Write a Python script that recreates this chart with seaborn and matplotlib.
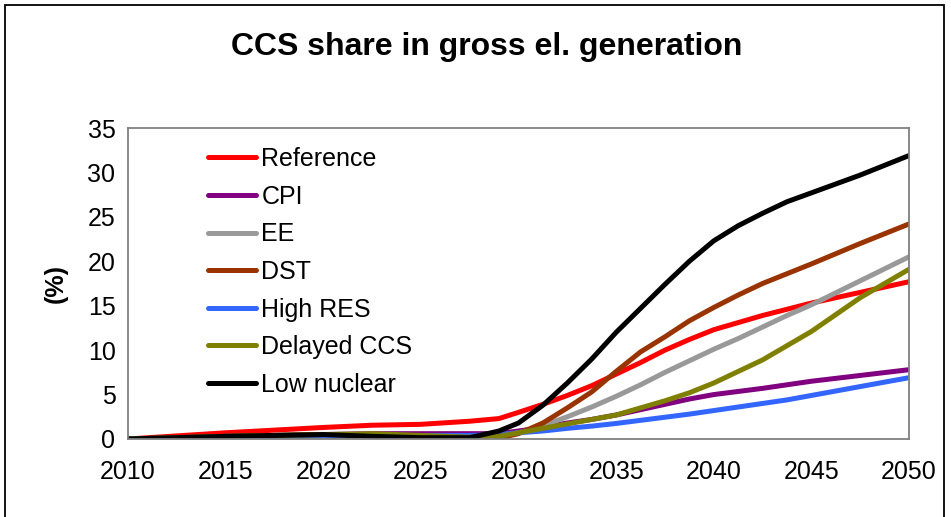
import matplotlib
matplotlib.use("Agg")
import matplotlib.pyplot as plt
import seaborn as sns
import pandas as pd
from matplotlib.patches import Rectangle

years = [2010, 2015, 2020, 2022.5, 2025, 2027.5, 2029, 2030, 2031.25, 2032.5, 2033.75,
         2035, 2036.25, 2037.5, 2038.75, 2040, 2041.25, 2042.5, 2043.75, 2045, 2047.5, 2050]

reference = [0, 0.7, 1.3, 1.55, 1.65, 2.0, 2.3, 3.0, 3.9, 4.9, 6.0,
             7.3, 8.6, 10.0, 11.2, 12.3, 13.1, 13.9, 14.6, 15.3, 16.5, 17.7]
cpi = [0, 0.3, 0.5, 0.6, 0.6, 0.6, 0.6, 0.9, 1.3, 1.8, 2.2,
       2.7, 3.3, 3.9, 4.5, 5.0, 5.35, 5.7, 6.1, 6.5, 7.15, 7.8]
ee = [0, 0.2, 0.3, 0.3, 0.3, 0.2, 0.4, 0.7, 1.5, 2.5, 3.6,
      4.8, 6.1, 7.5, 8.8, 10.1, 11.3, 12.6, 13.9, 15.1, 17.8, 20.5]
dst = [0, 0.3, 0.5, 0.4, 0.3, 0.1, 0.1, 0.6, 1.8, 3.5, 5.3,
       7.6, 9.8, 11.5, 13.3, 14.8, 16.2, 17.5, 18.6, 19.7, 22.0, 24.2]
high_res = [0, 0.2, 0.4, 0.4, 0.4, 0.4, 0.5, 0.7, 0.9, 1.2, 1.45,
            1.75, 2.1, 2.45, 2.8, 3.2, 3.6, 4.0, 4.4, 4.9, 5.9, 6.9]
delayed_ccs = [0, 0.3, 0.5, 0.6, 0.4, 0.2, 0.3, 0.7, 1.2, 1.7, 2.2,
               2.7, 3.5, 4.3, 5.2, 6.3, 7.6, 8.9, 10.5, 12.1, 15.9, 19.1]
low_nuclear = [0, 0.3, 0.5, 0.3, 0.15, 0.15, 0.9, 1.8, 3.8, 6.3, 9.0,
               12.0, 14.7, 17.4, 20.0, 22.3, 24.0, 25.4, 26.7, 27.7, 29.7, 31.9]

scenarios = ["Reference", "CPI", "EE", "DST", "High RES", "Delayed CCS", "Low nuclear"]
series = [reference, cpi, ee, dst, high_res, delayed_ccs, low_nuclear]
colors = ["#FF0000", "#800080", "#999999", "#993300", "#3366FF", "#808000", "#000000"]

xticks = [2010, 2015, 2020, 2025, 2030, 2035, 2040, 2045, 2050]
yticks = [0, 5, 10, 15, 20, 25, 30, 35]

rows = []
for name, vals in zip(scenarios, series):
    for y, v in zip(years, vals):
        rows.append({"Year": y, "Value": v, "Scenario": name})
df = pd.DataFrame(rows)

sns.set_style("white")
plt.rcParams["font.family"] = ["Liberation Sans", "DejaVu Sans"]
plt.rcParams["text.color"] = "black"
plt.rcParams["axes.labelcolor"] = "black"

fig = plt.figure(figsize=(9.51, 5.17), dpi=100)
ax = fig.add_axes([128 / 951, 1 - 439 / 517, (909 - 128) / 951, (439 - 128) / 517])

sns.lineplot(data=df, x="Year", y="Value", hue="Scenario", hue_order=scenarios,
             palette=dict(zip(scenarios, colors)), linewidth=3.6, sort=False,
             estimator=None, ax=ax)

ax.set_xlim(2010, 2050)
ax.set_ylim(0, 35)
ax.set_xticks(xticks)
ax.set_yticks(yticks)
ax.tick_params(axis="both", labelsize=18, direction="out", length=6, width=1,
               color="#808080", labelcolor="black", pad=3)
ax.tick_params(axis="x", pad=9)
for s in ax.spines.values():
    s.set_color("#808080")
    s.set_linewidth(1.3)
ax.set_xlabel("")
ax.set_ylabel("(%)", fontsize=18, fontweight="bold", labelpad=14, color="black")

leg = ax.legend(loc="upper left", bbox_to_anchor=(0.074, 1.011), frameon=False,
                fontsize=18, handlelength=1.9, handletextpad=0.22, labelspacing=0.545)
for h in leg.get_lines():
    h.set_linewidth(3.6)
for t in leg.get_texts():
    t.set_color("black")

fig.text(487 / 951, 1 - 47 / 517, "CCS share in gross el. generation", ha="center",
         va="center", fontsize=23, fontweight="bold", color="black")

fig.patches.append(Rectangle((4.5 / 951, -0.05), (944 - 4.5) / 951, 1.05 - 4.5 / 517,
                             transform=fig.transFigure, fill=False, edgecolor="black",
                             linewidth=1.3))

fig.savefig("out.png", dpi=100)
